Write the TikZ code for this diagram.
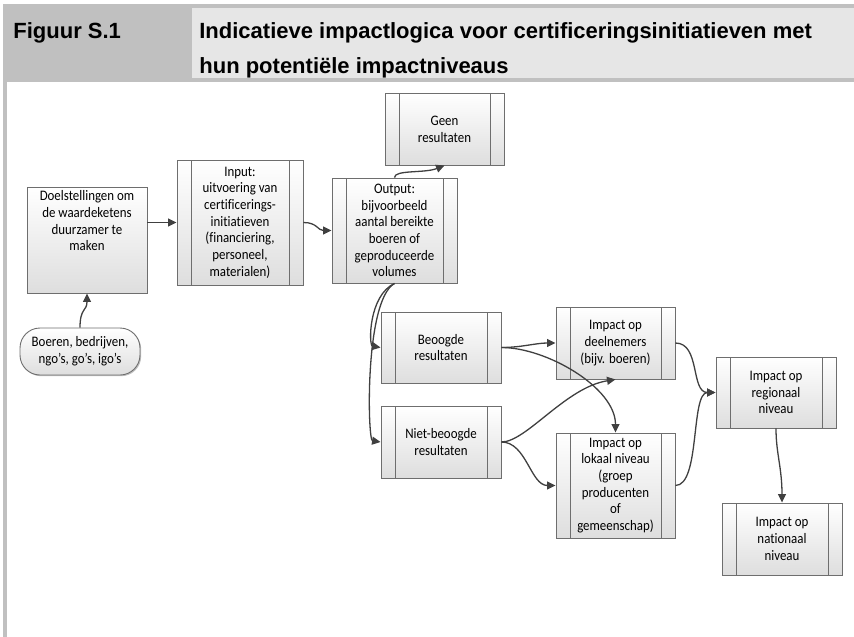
\documentclass[tikz,border=0pt]{standalone}
\usepackage{fontspec}
\setmainfont{Carlito}[FakeStretch=0.89,Ligatures=NoCommon]
\newfontfamily\headfont{Liberation Sans}
\usetikzlibrary{arrows.meta,shadows}
\definecolor{framegray}{RGB}{192,192,192}
\definecolor{headgray}{RGB}{230,230,230}
\definecolor{boxline}{RGB}{110,110,110}
\definecolor{linkgray}{RGB}{64,64,64}
\tikzset{every picture/.style={line width=0.75pt}}
\tikzset{
  headtext/.style={inner sep=0pt, font=\headfont\bfseries\fontsize{22}{35}\selectfont},
  plainbox/.style={draw=boxline, line width=0.9pt, top color=white, bottom color=black!13,
    align=center, inner sep=0pt, font=\fontsize{14.5}{16.7}\selectfont,
    drop shadow={shadow xshift=1.2pt, shadow yshift=-1.2pt, opacity=0.25, fill=black}},
  procbox/.style={plainbox, path picture={
    \draw[boxline, line width=0.9pt] ([xshift=14pt]path picture bounding box.north west) -- ([xshift=14pt]path picture bounding box.south west);
    \draw[boxline, line width=0.9pt] ([xshift=-14pt]path picture bounding box.north east) -- ([xshift=-14pt]path picture bounding box.south east);}},
  startbox/.style={plainbox, rounded corners=20pt},
  link/.style={draw=linkgray, line width=1.3pt, -{Triangle[length=8.5pt,width=8pt]}}
}

\begin{document}
\begin{tikzpicture}[x=1pt,y=1pt,yscale=-1]
\useasboundingbox (0,0) rectangle (854,637);

% frame and heading
\fill[framegray] (3,4) rectangle (854,82);
\fill[headgray] (192,8) rectangle (854,78);
\fill[framegray] (3,82) rectangle (7,637);
\node[headtext, anchor=base west] (fignum) at (13,38) {Figuur S.1};
\node[headtext, anchor=north west, align=left] (title) at (199,22) {Indicatieve impactlogica voor certificeringsinitiatieven met\\hun potenti\"ele impactniveaus};

% boxes
\node[startbox, minimum width=120, minimum height=47] (boeren) at (80,351.5) {Boeren, bedrijven,\\ngo's, go's, igo's};
\node[plainbox, minimum width=120, minimum height=106] (doel) at (87,240) {Doelstellingen om\\de waardeketens\\duurzamer te\\maken\\[22pt]};
\node[procbox, minimum width=126, minimum height=125] (inp) at (240,222.5) {Input:\\uitvoering van\\certificerings-\\initiatieven\\(financiering,\\personeel,\\materialen)};
\node[procbox, minimum width=125, minimum height=105] (out) at (394.5,230.5) {Output:\\bijvoorbeeld\\aantal bereikte\\boeren of\\geproduceerde\\volumes};
\node[procbox, minimum width=119, minimum height=72] (geen) at (444.5,129) {Geen\\resultaten};
\node[procbox, minimum width=120, minimum height=71] (beoogd) at (441,347.5) {Beoogde\\resultaten};
\node[procbox, minimum width=120, minimum height=72] (niet) at (441,442) {Niet-beoogde\\resultaten};
\node[procbox, minimum width=119, minimum height=72] (deel) at (615.5,343) {Impact op\\deelnemers\\(bijv. boeren)};
\node[procbox, minimum width=119, minimum height=105] (lokaal) at (615.5,485.5) {Impact op\\lokaal niveau\\(groep\\producenten\\of\\gemeenschap)};
\node[procbox, minimum width=120, minimum height=71] (reg) at (776,392.5) {Impact op\\regionaal\\niveau};
\node[procbox, minimum width=120, minimum height=72] (nat) at (782,539) {Impact op\\nationaal\\niveau};

% links
\draw[link] (boeren.north) .. controls +(0,-20) and +(0,18) .. (doel.south);
\draw[link] (doel.east |- inp.west) -- (inp.west);
\draw[link] (inp.east) .. controls +(14,0) and +(-14,0) .. (out.west);
\draw[link] (out.north) .. controls +(0,-8) and +(-20,8) .. (geen.south);
\draw[link] (out.south) .. controls +(-26,12) and +(-12,-2) .. (beoogd.west);
\draw[link] (out.south) .. controls +(-30,17) and +(-13,-2) .. (niet.west);
\draw[link] (beoogd.east) .. controls +(20,0) and +(-20,0) .. (deel.west);
\draw[link] (beoogd.east) .. controls +(45,0) and +(0,-45) .. (lokaal.north);
\draw[link] (niet.east) .. controls +(25,0) and +(-50,8) .. (deel.south);
\draw[link] (niet.east) .. controls +(25,0) and +(-25,0) .. (lokaal.west);
\draw[link] (deel.east) .. controls +(25,0) and +(-25,0) .. (reg.west);
\draw[link] (lokaal.east) .. controls +(25,0) and +(-25,0) .. (reg.west);
\draw[link] (reg.south) .. controls +(0,25) and +(0,-35) .. (nat.north);
\end{tikzpicture}
\end{document}
